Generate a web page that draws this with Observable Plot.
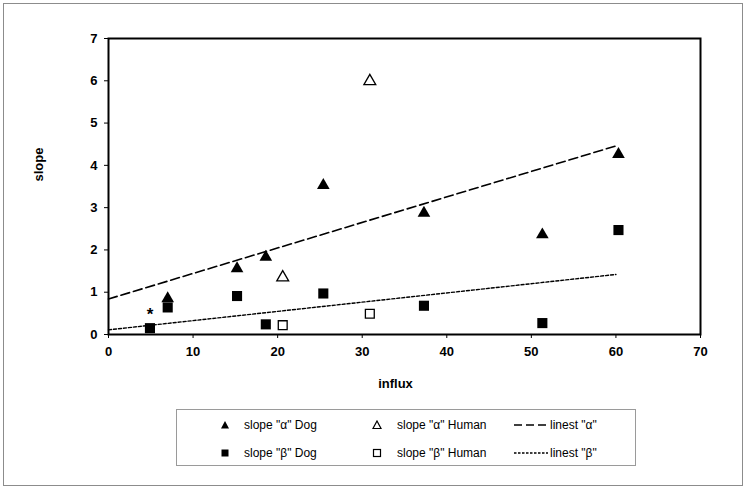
<!DOCTYPE html>
<html><head><meta charset="utf-8">
<script src="https://cdn.jsdelivr.net/npm/d3@7"></script>
<script src="https://cdn.jsdelivr.net/npm/@observablehq/plot@0.6"></script>
<style>
body{margin:0;background:#fff;font-family:"Liberation Sans",Arial,sans-serif;}
#wrap{position:relative;width:747px;height:490px;overflow:hidden;background:#fff;}
#border{position:absolute;left:3px;top:3px;width:738px;height:481px;border:1.5px solid #8c8c8c;}
#chart{position:absolute;left:0;top:0;}
#legend{position:absolute;left:176px;top:409px;width:458px;height:55px;border:1px solid #9a9a9a;font-size:12px;color:#000;}
#legend .sym{position:absolute;}
#legend .lab{position:absolute;white-space:nowrap;line-height:14px;}
</style></head><body>
<div id="wrap"><div id="border"></div><div id="chart"></div><div id="legend"></div></div>
<script>
const alphaDogX = [7.0, 15.2, 18.6, 25.4, 37.3, 51.3, 60.3];
const alphaDogY = [0.85, 1.56, 1.83, 3.53, 2.87, 2.36, 4.26];
const alphaHumanX = [20.6, 30.9];
const alphaHumanY = [1.35, 5.99];
const betaDogX = [4.9, 7.0, 15.2, 18.6, 25.4, 37.3, 51.3, 60.3];
const betaDogY = [0.15, 0.64, 0.91, 0.24, 0.97, 0.68, 0.27, 2.47];
const betaHumanX = [20.6, 30.9];
const betaHumanY = [0.22, 0.49];
const linestAlphaX = [0, 60];
const linestAlphaY = [0.84, 4.46];
const linestBetaX = [0, 60];
const linestBetaY = [0.11, 1.42];
const asteriskX = [4.9];
const asteriskY = [0.15];
const xTicks = [0, 10, 20, 30, 40, 50, 60, 70];
const yTicks = [0, 1, 2, 3, 4, 5, 6, 7];
const xLabel = "influx";
const yLabel = "slope";
const legendLabels = ['slope "α" Dog', 'slope "α" Human', 'linest "α"', 'slope "β" Dog', 'slope "β" Human', 'linest "β"'];

const zip = (xs, ys) => xs.map((x, i) => ({x, y: ys[i]}));

const plot = Plot.plot({
  width: 747, height: 400,
  marginLeft: 108, marginRight: 47, marginTop: 38, marginBottom: 66,
  style: {fontFamily: '"Liberation Sans", Arial, sans-serif', fontSize: "13px", fontWeight: "bold", color: "#000", background: "transparent", overflow: "visible"},
  x: {domain: [0, 70], ticks: xTicks, tickFormat: d3.format("d"), tickSize: 4, tickPadding: 8, label: null},
  y: {domain: [0, 7], ticks: yTicks, tickFormat: d3.format("d"), tickSize: 4, tickPadding: 7, label: null},
  marks: [
    Plot.frame({stroke: "#000", strokeWidth: 2}),
    Plot.text([xLabel], {text: d => d, frameAnchor: "bottom", lineAnchor: "middle", dx: -9, dy: 49, fontSize: 13, fontWeight: "bold", fill: "#000"}),
    Plot.text([yLabel], {text: d => d, frameAnchor: "left", lineAnchor: "middle", rotate: -90, dx: -70, dy: -5, fontSize: 13, fontWeight: "bold", fill: "#000"}),
    Plot.line(zip(linestAlphaX, linestAlphaY), {x: "x", y: "y", stroke: "#000", strokeWidth: 1.6, strokeDasharray: "9,4"}),
    Plot.line(zip(linestBetaX, linestBetaY), {x: "x", y: "y", stroke: "#000", strokeWidth: 1.4, strokeDasharray: "3,2"}),
    Plot.dot(zip(alphaDogX, alphaDogY), {x: "x", y: "y", symbol: "triangle", fill: "#000", r: 4.7}),
    Plot.dot(zip(betaDogX, betaDogY), {x: "x", y: "y", symbol: "square", fill: "#000", r: 5.7}),
    Plot.dot(zip(alphaHumanX, alphaHumanY), {x: "x", y: "y", symbol: "triangle", fill: "#fff", stroke: "#000", strokeWidth: 1.3, r: 4.4}),
    Plot.dot(zip(betaHumanX, betaHumanY), {x: "x", y: "y", symbol: "square", fill: "#fff", stroke: "#000", strokeWidth: 1.3, r: 5}),
    Plot.text(zip(asteriskX, asteriskY), {x: "x", y: "y", text: () => "*", dy: -14, fontSize: 17, fontWeight: "bold", fill: "#000"})
  ]
});
document.getElementById("chart").appendChild(plot);

// legend
const leg = document.getElementById("legend");
const ns = "http://www.w3.org/2000/svg";
const cols = [{sym: 48, text: 67}, {sym: 200, text: 220}, {line: [337, 371], text: 373}];
const rows = [15, 43];
function addSvg(left, top, w, h, inner) {
  const s = document.createElementNS(ns, "svg");
  s.setAttribute("width", w); s.setAttribute("height", h);
  s.setAttribute("class", "sym");
  s.style.left = left + "px"; s.style.top = top + "px";
  s.innerHTML = inner;
  leg.appendChild(s);
}
legendLabels.forEach((lab, i) => {
  const r = Math.floor(i / 3), c = i % 3;
  const cy = rows[r], col = cols[c];
  if (c === 0 || c === 1) {
    const filled = c === 0;
    const fill = filled ? "#000" : "#fff";
    const sw = filled ? 0 : 1.2;
    if (r === 0) addSvg(col.sym - 5, cy - 5, 10, 10, `<polygon points="5,1 9,8.5 1,8.5" fill="${fill}" stroke="#000" stroke-width="${sw}"/>`);
    else addSvg(col.sym - 5, cy - 5, 10, 10, `<rect x="1.5" y="1.5" width="7" height="7" fill="${fill}" stroke="#000" stroke-width="${sw}"/>`);
  } else {
    const w = col.line[1] - col.line[0];
    addSvg(col.line[0], cy - 3, w, 6, `<line x1="0" x2="${w}" y1="3" y2="3" stroke="#000" stroke-width="1.4" stroke-dasharray="${r === 0 ? '8,4' : '2.5,1.5'}"/>`);
  }
  const t = document.createElement("div");
  t.className = "lab";
  t.textContent = lab;
  t.style.left = col.text + "px";
  t.style.top = (cy - 7) + "px";
  leg.appendChild(t);
});
</script>
</body></html>
